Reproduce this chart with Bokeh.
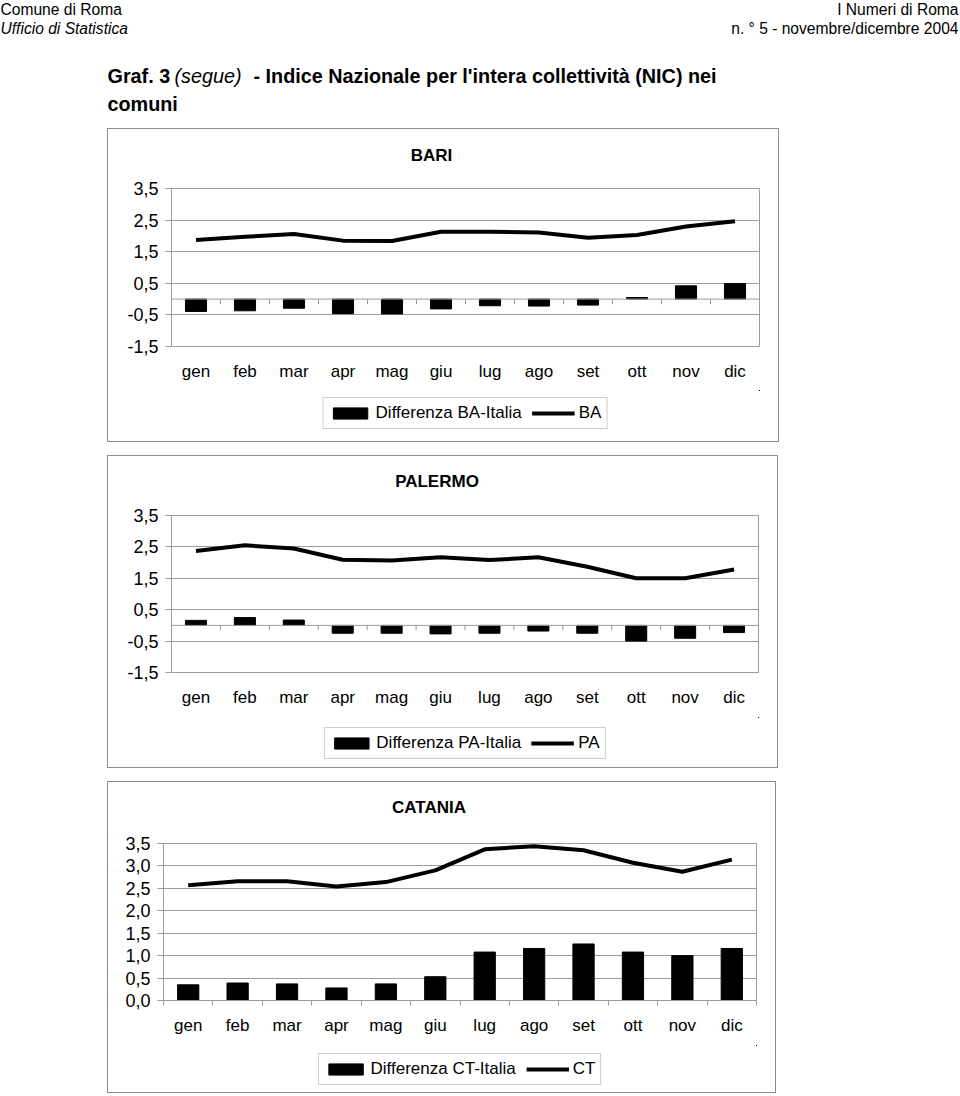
from bokeh.plotting import figure
from bokeh.models import (Range1d, FixedTicker, CustomJSTickFormatter, LinearAxis, Legend,
                          LegendItem, ColumnDataSource, Spacer, Grid, Span)
from bokeh.layouts import column, row
from bokeh.core.properties import value
from bokeh.embed import file_html
from bokeh.resources import INLINE

# ---------------- data ----------------
months = ["gen", "feb", "mar", "apr", "mag", "giu", "lug", "ago", "set", "ott", "nov", "dic"]

ba_diff = [-0.39, -0.37, -0.29, -0.46, -0.47, -0.31, -0.21, -0.22, -0.19, 0.05, 0.42, 0.49]
ba_index = [1.87, 1.97, 2.06, 1.85, 1.84, 2.13, 2.13, 2.11, 1.94, 2.03, 2.30, 2.46]

pa_diff = [0.16, 0.25, 0.17, -0.25, -0.25, -0.27, -0.25, -0.18, -0.25, -0.50, -0.41, -0.23]
pa_index = [2.37, 2.55, 2.45, 2.09, 2.07, 2.17, 2.08, 2.17, 1.87, 1.50, 1.50, 1.78]

ct_diff = [0.35, 0.39, 0.37, 0.28, 0.37, 0.53, 1.08, 1.16, 1.26, 1.08, 1.00, 1.16]
ct_index = [2.57, 2.66, 2.66, 2.54, 2.64, 2.90, 3.37, 3.44, 3.35, 3.07, 2.87, 3.14]

ticks_bari = [-1.5, -0.5, 0.5, 1.5, 2.5, 3.5]
ticks_pal = [-1.5, -0.5, 0.5, 1.5, 2.5, 3.5]
ticks_cat = [0.0, 0.5, 1.0, 1.5, 2.0, 2.5, 3.0, 3.5]

FONT = "Liberation Sans"
GRID = "#9c9c9c"
BOX = "#8c8c8c"
TICK_PX = 5
LINE_W = 4

SIDES = "inset 1px 0 0 %s, inset -1px 0 0 %s" % (BOX, BOX)
TOP_BOX = {"box-shadow": SIDES + ", inset 0 1px 0 %s" % BOX}
MID_BOX = {"box-shadow": SIDES}
BOTTOM_BOX = {"box-shadow": SIDES + ", inset 0 -1px 0 %s" % BOX}


def bare_figure(width, height, xr, yr, **kw):
    f = figure(width=width, height=height, x_range=xr, y_range=yr,
               output_backend="svg", toolbar_location=None,
               x_axis_type=None, y_axis_type=None, **kw)
    f.outline_line_color = None
    f.background_fill_color = None
    f.border_fill_color = None
    return f


def make_title(title, width, height, left, right, cx, cy):
    fw = width - left - right
    t = bare_figure(width, height, Range1d(0, fw), Range1d(height, 0),
                    min_border_left=left, min_border_right=right,
                    min_border_top=0, min_border_bottom=0)
    t.styles = TOP_BOX
    t.text(x=[cx], y=[cy], text=[title], text_font=value(FONT), text_font_size="17px",
           text_font_style="bold", text_align="center", text_baseline="middle",
           text_color="black")
    return t


def make_chart(src, yticks, width, height, left, right, top, bottom):
    n = len(months)
    ymin, ymax = min(yticks), max(yticks)
    p = figure(width=width, height=height,
               x_range=Range1d(0, n), y_range=Range1d(ymin, ymax),
               output_backend="svg", toolbar_location=None,
               x_axis_type=None, y_axis_type=None,
               min_border_left=left, min_border_right=right,
               min_border_top=top, min_border_bottom=bottom)
    p.background_fill_color = "white"
    p.border_fill_color = None
    p.outline_line_color = GRID
    p.styles = MID_BOX

    yax = LinearAxis(ticker=FixedTicker(ticks=yticks),
                     formatter=CustomJSTickFormatter(code="return tick.toFixed(1).replace('.', ',');"))
    yax.axis_line_color = GRID
    yax.major_tick_line_color = GRID
    yax.major_tick_in = 0
    yax.major_tick_out = 6
    yax.minor_tick_line_color = None
    yax.major_label_text_font = FONT
    yax.major_label_text_font_size = "18px"
    yax.major_label_text_color = "black"
    yax.major_label_standoff = 7
    p.add_layout(yax, "left")

    grid = Grid(dimension=1, ticker=FixedTicker(ticks=yticks))
    grid.grid_line_color = GRID
    p.add_layout(grid)

    frame_h = height - top - bottom
    tick_len = TICK_PX * (ymax - ymin) / frame_h
    bounds = list(range(n + 1))

    if ymin < 0:
        # category axis crossing at zero inside the plot area
        p.segment(x0=bounds, x1=bounds, y0=[0] * len(bounds), y1=[-tick_len] * len(bounds),
                  line_color=GRID, line_width=1)
        p.add_layout(Span(location=0, dimension="width", line_color=GRID, line_width=1))
        label_standoff = 15
    else:
        tax = LinearAxis(ticker=FixedTicker(ticks=bounds),
                         formatter=CustomJSTickFormatter(code="return '';"))
        tax.axis_line_color = GRID
        tax.major_tick_line_color = GRID
        tax.major_tick_in = 0
        tax.major_tick_out = TICK_PX
        tax.minor_tick_line_color = None
        tax.major_label_standoff = 0
        tax.major_label_text_font_size = "1px"
        p.add_layout(tax, "below")
        label_standoff = 10

    xax = LinearAxis(ticker=FixedTicker(ticks=src.data["x"]),
                     formatter=CustomJSTickFormatter(args=dict(labels=months),
                                                     code="return labels[Math.floor(tick)];"))
    xax.axis_line_color = None
    xax.major_tick_line_color = None
    xax.major_tick_out = 0
    xax.major_tick_in = 0
    xax.minor_tick_line_color = None
    xax.major_label_text_font = FONT
    xax.major_label_text_font_size = "17px"
    xax.major_label_text_color = "black"
    xax.major_label_standoff = label_standoff
    p.add_layout(xax, "below")

    p.vbar(x="x", top="diff", bottom=0, width=0.43, source=src,
           fill_color="black", line_color="black")
    p.line(x="x", y="idx", source=src, line_color="black", line_width=LINE_W,
           line_join="round")
    return p


def make_legend(src, diff_label, line_label, width, height, left, right, top, bottom):
    # legend panel: same glyphs as the chart, kept outside this panel's visible range
    lf = bare_figure(width, height, Range1d(-3, -2), Range1d(-3, -2),
                     min_border_left=left, min_border_right=right,
                     min_border_top=top, min_border_bottom=bottom)
    lf.styles = BOTTOM_BOX
    r_bar = lf.vbar(x="x", top="diff", bottom=0, width=0.43, source=src,
                    fill_color="black", line_color="black")
    r_line = lf.line(x="x", y="idx", source=src, line_color="black", line_width=LINE_W)
    legend = Legend(items=[LegendItem(label=diff_label, renderers=[r_bar]),
                           LegendItem(label=line_label, renderers=[r_line])],
                    orientation="horizontal", location="center")
    legend.label_text_font = FONT
    legend.label_text_font_size = "17px"
    legend.label_text_color = "black"
    legend.label_height = 18
    legend.glyph_width = 43
    legend.glyph_height = 14
    legend.label_standoff = 4
    legend.spacing = 10
    legend.padding = 5
    legend.margin = 0
    legend.border_line_color = GRID
    legend.background_fill_color = "white"
    lf.add_layout(legend)
    return lf


def make_box(title, diff_label, line_label, diff, idx, yticks, width,
             title_h, title_cx, title_cy,
             chart_h, left, right, top, bottom,
             leg_h, leg_top, leg_bottom):
    xs = [i + 0.5 for i in range(len(months))]
    src = ColumnDataSource(dict(x=xs, diff=diff, idx=idx))
    t = make_title(title, width, title_h, left, right, title_cx, title_cy)
    c = make_chart(src, yticks, width, chart_h, left, right, top, bottom)
    lg = make_legend(src, diff_label, line_label, width, leg_h, left, right, leg_top, leg_bottom)
    return column(t, c, lg)


# ---------------- header ----------------
hdr = bare_figure(960, 128, Range1d(0, 960), Range1d(128, 0), min_border=0)

HS = "15.6px"
hdr.text(x=[0], y=[8.5], text=["Comune di Roma"], text_font=value(FONT), text_font_size=HS,
         text_align="left", text_baseline="middle", text_color="black")
hdr.text(x=[0], y=[28], text=["Ufficio di Statistica"], text_font=value(FONT), text_font_size=HS,
         text_font_style="italic", text_align="left", text_baseline="middle", text_color="black")
hdr.text(x=[958], y=[8.5], text=["I Numeri di Roma"], text_font=value(FONT), text_font_size=HS,
         text_align="right", text_baseline="middle", text_color="black")
hdr.text(x=[958], y=[28], text=["n. \u00b0 5 - novembre/dicembre 2004"], text_font=value(FONT),
         text_font_size=HS, text_align="right", text_baseline="middle", text_color="black")

TS = "19.8px"
hdr.text(x=[107], y=[75], text=["Graf. 3"], text_font=value(FONT), text_font_size=TS,
         text_font_style="bold", text_align="left", text_baseline="middle", text_color="black")
hdr.text(x=[174], y=[75], text=["(segue)"], text_font=value(FONT), text_font_size=TS,
         text_font_style="italic", text_align="left", text_baseline="middle", text_color="black")
hdr.text(x=[253], y=[75], text=["- Indice Nazionale per l'intera collettivit\u00e0  (NIC) nei"],
         text_font=value(FONT), text_font_size=TS, text_font_style="bold",
         text_align="left", text_baseline="middle", text_color="black")
hdr.text(x=[107], y=[103], text=["comuni"], text_font=value(FONT), text_font_size=TS,
         text_font_style="bold", text_align="left", text_baseline="middle", text_color="black")

# ---------------- charts ----------------
bari = make_box("BARI", "Differenza BA-Italia", "BA", ba_diff, ba_index, ticks_bari, 672,
                40, 260, 27,
                222, 64, 20, 20, 44,
                52, 0, 6)
pal = make_box("PALERMO", "Differenza PA-Italia", "PA", pa_diff, pa_index, ticks_pal, 671,
               40, 265.5, 26,
               222, 64, 20, 20, 45,
               51, 0, 0)
cat = make_box("CATANIA", "Differenza CT-Italia", "CT", ct_diff, ct_index, ticks_cat, 669,
               40, 265.5, 26,
               224, 56, 20, 22, 45,
               48, 0, 0)

layout = column(
    hdr,
    row(Spacer(width=107, height=314), bari),
    Spacer(width=10, height=13),
    row(Spacer(width=107, height=313), pal),
    Spacer(width=10, height=13),
    row(Spacer(width=107, height=312), cat),
)

open("out.html", "w").write(file_html(layout, INLINE))
